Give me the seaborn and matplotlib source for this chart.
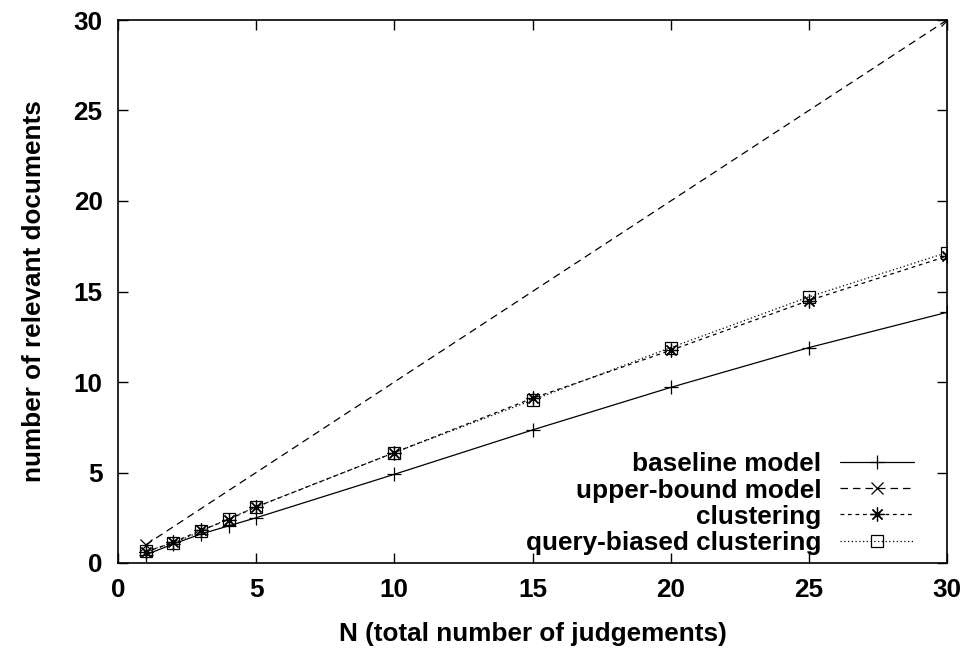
import matplotlib
matplotlib.use("Agg")
import matplotlib.pyplot as plt
import seaborn as sns
import pandas as pd

N = [1, 2, 3, 4, 5, 10, 15, 20, 25, 30]
baseline = [0.45, 1.05, 1.6, 2.05, 2.5, 4.9, 7.35, 9.7, 11.9, 13.85]
upper_N = [1, 30]
upper_bound = [1, 30]
clustering = [0.6, 1.15, 1.8, 2.4, 3.1, 6.1, 9.1, 11.75, 14.5, 16.95]
query_biased = [0.65, 1.1, 1.75, 2.45, 3.1, 6.1, 9.0, 11.9, 14.7, 17.15]
labels = ["baseline model", "upper-bound model", "clustering", "query-biased clustering"]
xticks = [0, 5, 10, 15, 20, 25, 30]
yticks = [0, 5, 10, 15, 20, 25, 30]

sns.set_theme(style="ticks")
plt.rcParams['font.family'] = ['Liberation Sans', 'DejaVu Sans']
plt.rcParams['font.weight'] = 'bold'
plt.rcParams['text.color'] = 'black'
plt.rcParams['axes.labelcolor'] = 'black'
plt.rcParams['xtick.color'] = 'black'
plt.rcParams['ytick.color'] = 'black'

fig = plt.figure(figsize=(9.66, 6.49), dpi=100)
ax = fig.add_axes([118/966, 86/649, (947-118)/966, (563-20)/649])

series = [(N, baseline), (upper_N, upper_bound), (N, clustering), (N, query_biased)]
styles = [
    dict(linestyle='-', marker='+', ms=10, mew=0.9),
    dict(linestyle=(0, (6, 4)), marker='x', ms=8, mew=0.9),
    dict(linestyle=(0, (3, 3)), marker=(8, 2, 0), ms=10, mew=0.9),
    dict(linestyle=(0, (1, 2)), marker='s', ms=8, mew=0.9, mfc='none'),
]
fs = 18.8
for lab, (xs, vals), st in zip(labels, series, styles):
    df = pd.DataFrame({"N": xs, "v": vals})
    sns.lineplot(data=df, x="N", y="v", ax=ax, color='black', lw=0.9,
                 label=lab, mec='black', **st)

ax.set_xlim(0, 30)
ax.set_ylim(0, 30)
ax.set_xticks(xticks)
ax.set_yticks(yticks)
ax.tick_params(direction='in', length=7, width=1, top=True, right=True,
               labelsize=fs, pad=11, colors='black')
for lbl in ax.get_xticklabels() + ax.get_yticklabels():
    lbl.set_fontweight('bold')
for s in ax.spines.values():
    s.set_color('black')
    s.set_linewidth(1.2)
ax.set_xlabel("N (total number of judgements)", fontsize=fs, fontweight='bold', labelpad=14)
ax.set_ylabel("number of relevant documents", fontsize=fs, fontweight='bold', labelpad=20)

leg = ax.legend(loc='lower right', markerfirst=False, frameon=False, fontsize=fs,
                handlelength=2.85, handletextpad=0.7, labelspacing=0.08,
                borderaxespad=0.0, bbox_to_anchor=(0.973, -0.004))
for t in leg.get_texts():
    t.set_fontweight('bold')

fig.savefig("out.png", dpi=100)
